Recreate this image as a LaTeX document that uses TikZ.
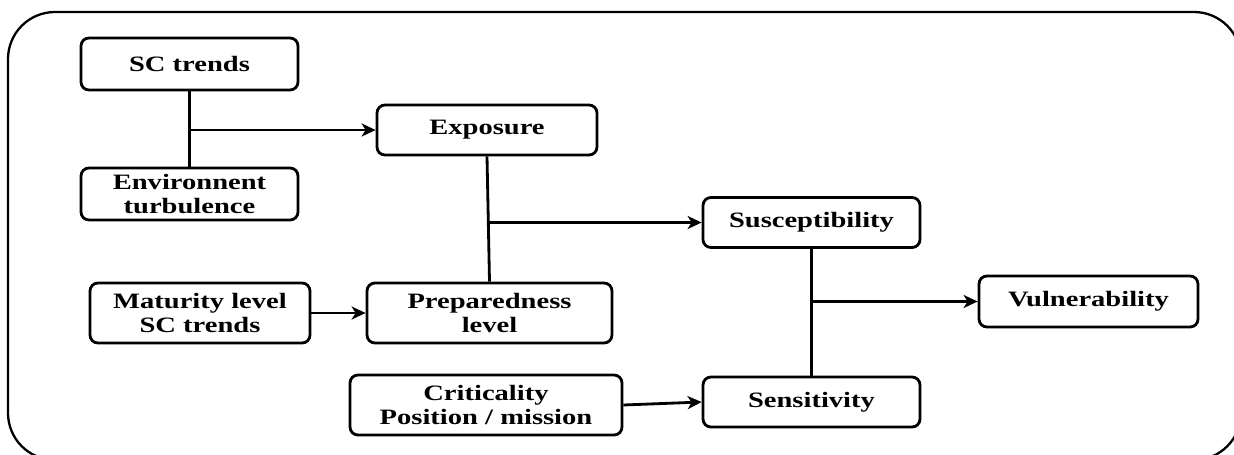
\documentclass[tikz,border=0pt]{standalone}
\usepackage{fontspec}
\newfontfamily\boxfont[FakeStretch=1.3]{Liberation Serif}
\usepackage{tikz}
\usetikzlibrary{arrows.meta}

\tikzset{
    box/.style={draw, rounded corners=4.5pt, line width=1.6pt, align=center, inner sep=0pt,
        font=\boxfont\fontsize{12.5}{13.5}\selectfont\bfseries},
    link/.style={line width=1.6pt},
    arrow/.style={link, -{Stealth[length=2.8mm, width=2.6mm, inset=0.8mm]}}
}

\begin{document}
\begin{tikzpicture}[x=0.02cm, y=-0.02cm]

    %Frame
    \useasboundingbox (0,0) rectangle (1234,454);
    \clip (0,0) rectangle (1234,454);
    \draw[line width=1.3pt, rounded corners=0.94cm] (8,12) rectangle (1241,460); %Outer frame

    %Boxes
    \node[box, minimum width=4.34cm, minimum height=1.04cm] (sctrends) at (189.5,64) {SC trends};
    \node[box, minimum width=4.34cm, minimum height=1.04cm] (envturb) at (189.5,194) {Environnent\\turbulence};
    \node[box, minimum width=4.4cm, minimum height=1.0cm] (exposure) at (487,130) {Exposure};
    \node[box, minimum width=4.4cm, minimum height=1.2cm] (maturity) at (200,313) {Maturity level\\SC trends};
    \node[box, minimum width=4.9cm, minimum height=1.2cm] (prepared) at (489.5,313) {Preparedness\\level};
    \node[box, minimum width=5.44cm, minimum height=1.2cm] (critical) at (486,405) {Criticality\\Position / mission};
    \node[box, minimum width=4.34cm, minimum height=1.0cm] (suscept) at (811.5,222.5) {Susceptibility};
    \node[box, minimum width=4.34cm, minimum height=1.0cm] (sensitiv) at (811.5,402) {Sensitivity};
    \node[box, minimum width=4.38cm, minimum height=1.02cm] (vulner) at (1088.5,301.5) {Vulnerability};

    %Joints
    \coordinate (trendjoin) at (sctrends.south |- exposure.west);
    \coordinate (exposjoin) at (exposure.south |- suscept.west);
    \coordinate (suscjoin) at (suscept.south |- vulner.west);

    %Connectors
    \draw[link] (sctrends.south) -- (envturb.north); %SC trends to turbulence
    \draw[arrow] (trendjoin) -- (exposure.west); %To exposure
    \draw[link] (exposure.south) -- (prepared.north); %Exposure to preparedness
    \draw[arrow] (exposjoin) -- (suscept.west); %To susceptibility
    \draw[arrow] (maturity.east) -- (prepared.west); %Maturity to preparedness
    \draw[arrow] (critical.east) -- (sensitiv.west); %Criticality to sensitivity
    \draw[link] (suscept.south) -- (sensitiv.north); %Susceptibility to sensitivity
    \draw[arrow] (suscjoin) -- (vulner.west); %To vulnerability

\end{tikzpicture}
\end{document}
